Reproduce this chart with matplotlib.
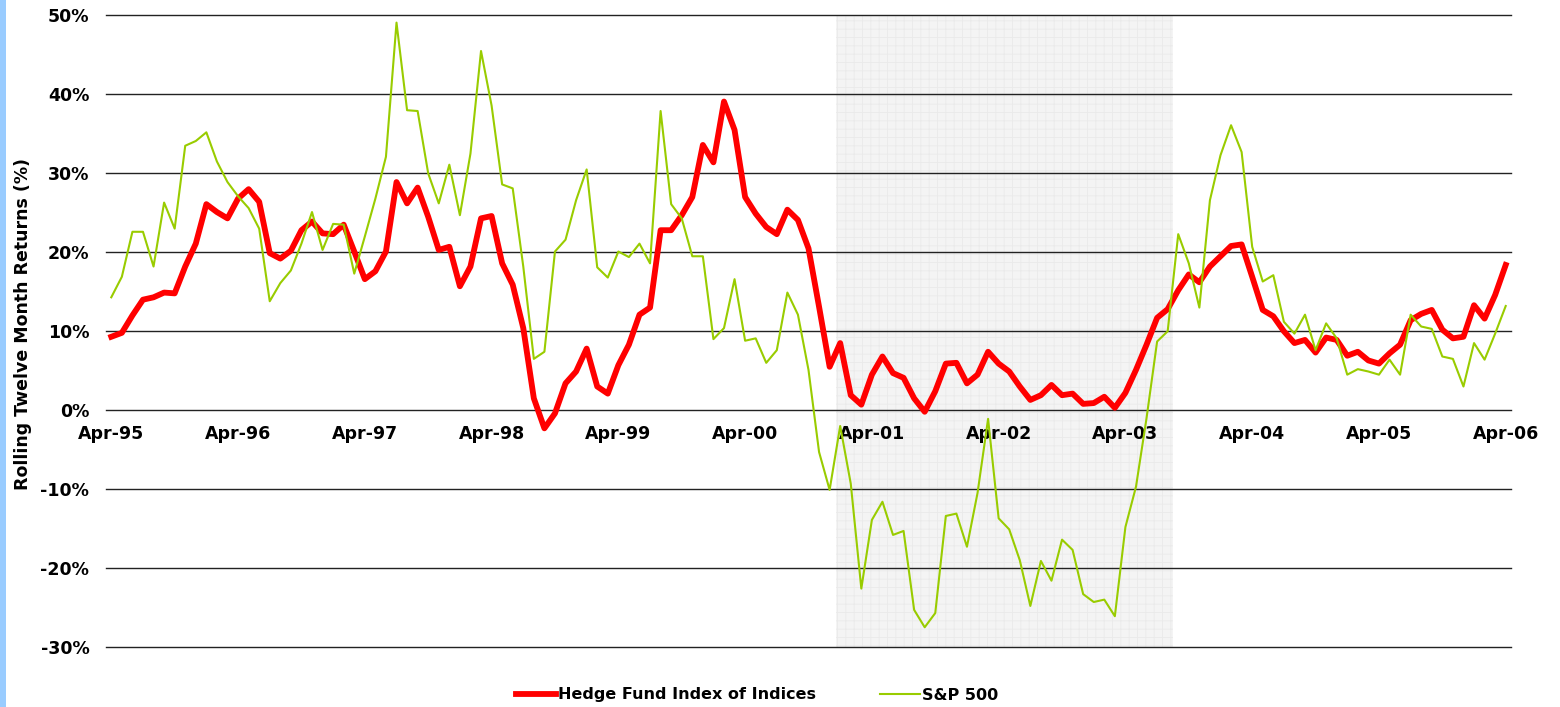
import numpy as np
import matplotlib
matplotlib.use("Agg")
import matplotlib.pyplot as plt
from matplotlib.patches import Rectangle

# rolling twelve month returns (%), monthly Apr-95 .. Apr-06
hedge_fund = [9.3, 9.8, 12.0, 14.0, 14.3, 14.9, 14.8, 18.2, 21.1, 26.1, 25.1, 24.3,
              26.8, 28.0, 26.4, 19.9, 19.2, 20.2, 22.8, 23.9, 22.4, 22.3, 23.5, 20.1,
              16.6, 17.6, 20.1, 28.9, 26.2, 28.2, 24.5, 20.3, 20.7, 15.7, 18.2, 24.3,
              24.6, 18.6, 15.9, 10.4, 1.5, -2.3, -0.4, 3.4, 4.9, 7.8, 3.0, 2.1,
              5.7, 8.3, 12.1, 13.0, 22.8, 22.8, 24.7, 27.0, 33.6, 31.4, 39.1, 35.5,
              27.0, 24.9, 23.2, 22.3, 25.4, 24.1, 20.5, 13.1, 5.5, 8.5, 1.9, 0.7,
              4.5, 6.8, 4.7, 4.1, 1.5, -0.2, 2.4, 5.9, 6.0, 3.4, 4.5, 7.4,
              5.9, 4.9, 3.0, 1.3, 1.9, 3.2, 1.9, 2.1, 0.8, 0.9, 1.7, 0.3,
              2.2, 5.1, 8.3, 11.7, 12.8, 15.2, 17.2, 16.2, 18.2, 19.5, 20.8, 21.0,
              16.9, 12.7, 11.9, 10.0, 8.5, 8.9, 7.3, 9.2, 8.9, 6.9, 7.4, 6.3,
              5.9, 7.2, 8.3, 11.4, 12.2, 12.7, 10.2, 9.1, 9.3, 13.3, 11.6, 14.6,
              18.4]

sp500 = [14.3, 16.9, 22.6, 22.6, 18.2, 26.3, 23.0, 33.5, 34.1, 35.2, 31.5, 28.9,
         27.1, 25.6, 23.0, 13.8, 16.1, 17.7, 21.1, 25.1, 20.3, 23.6, 23.5, 17.3,
         22.0, 26.8, 32.1, 49.1, 38.0, 37.9, 30.0, 26.2, 31.1, 24.7, 32.5, 45.5,
         38.6, 28.6, 28.1, 18.2, 6.5, 7.4, 20.1, 21.6, 26.6, 30.5, 18.1, 16.8,
         20.1, 19.4, 21.1, 18.6, 37.9, 26.1, 24.3, 19.5, 19.5, 9.0, 10.4, 16.6,
         8.8, 9.1, 6.0, 7.6, 14.9, 12.1, 5.1, -5.3, -10.1, -2.0, -9.3, -22.6,
         -13.9, -11.6, -15.8, -15.3, -25.3, -27.5, -25.7, -13.4, -13.1, -17.3, -10.5, -1.1,
         -13.7, -15.1, -19.0, -24.8, -19.1, -21.6, -16.4, -17.7, -23.3, -24.3, -24.0, -26.1,
         -14.8, -9.7, -1.0, 8.7, 10.0, 22.3, 18.6, 13.0, 26.6, 32.3, 36.1, 32.7,
         20.7, 16.3, 17.1, 11.2, 9.7, 12.1, 7.6, 11.0, 9.1, 4.5, 5.2, 4.9,
         4.5, 6.4, 4.5, 12.1, 10.6, 10.3, 6.8, 6.5, 3.0, 8.5, 6.4, 9.7,
         13.2]

tick_labels = ["Apr-95", "Apr-96", "Apr-97", "Apr-98", "Apr-99", "Apr-00",
               "Apr-01", "Apr-02", "Apr-03", "Apr-04", "Apr-05", "Apr-06"]
y_ticks = [-30, -20, -10, 0, 10, 20, 30, 40, 50]

# bear market shading, in months from Apr-95
shade_start = 68.6
shade_end = 100.5

plt.rcParams['font.family'] = 'DejaVu Sans'
plt.rcParams['font.weight'] = 'bold'
plt.rcParams['hatch.linewidth'] = 0.6

months = np.arange(len(hedge_fund))

fig = plt.figure(figsize=(15.6, 7.07), dpi=100)
ax = fig.add_axes([106 / 1560, 1 - 647 / 707, 1405 / 1560, (647 - 15.5) / 707])

# left blue strip
fig.patches.append(Rectangle((0, 0), 6 / 1560, 1, transform=fig.transFigure,
                             facecolor='#99ccff', edgecolor='none'))

ax.axvspan(shade_start, shade_end, facecolor='#f4f4f4', edgecolor='#eaeaea',
           hatch='++', linewidth=0, zorder=0)

for yv in y_ticks:
    ax.axhline(yv, color='#222222', linewidth=1.0, zorder=1, clip_on=False)

ax.plot(months, hedge_fund, color='#ff0000', linewidth=4.2, zorder=3,
        solid_joinstyle='round', label='Hedge Fund Index of Indices')
ax.plot(months, sp500, color='#99cc00', linewidth=1.5, zorder=4,
        label='S&P 500')

# x labels sit on the zero line
ax.spines['bottom'].set_position(('data', 0))
for s in ax.spines.values():
    s.set_visible(False)

ax.set_xlim(-0.5, len(hedge_fund) - 0.5)
ax.set_ylim(-30, 50)

ax.set_xticks(months[::12])
ax.set_xticklabels(tick_labels)
ax.set_yticks(y_ticks)
ax.set_yticklabels([f"{v}%" for v in y_ticks])
ax.tick_params(axis='x', length=0, pad=11, labelsize=12.5)
ax.tick_params(axis='y', length=0, pad=12, labelsize=12.5)
for lab in ax.get_xticklabels() + ax.get_yticklabels():
    lab.set_fontweight('bold')
ax.set_facecolor('none')

fig.text(23.5 / 1560, 1 - 324 / 707, "Rolling Twelve Month Returns (%)",
         rotation=90, ha='center', va='center', fontsize=12.5, fontweight='bold')

fig.legend(loc='center', bbox_to_anchor=(757 / 1560, 1 - 695 / 707), ncol=2,
           frameon=False, handlelength=2.5, handletextpad=0.15,
           columnspacing=4.0, borderpad=0, prop={'weight': 'bold', 'size': 11.5})

fig.savefig("out.png", dpi=100)
